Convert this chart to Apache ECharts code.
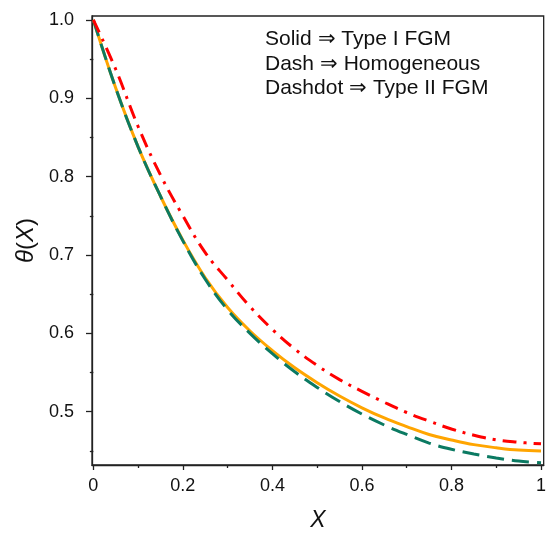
<!DOCTYPE html>
<html><head><meta charset="utf-8">
<script src="https://cdn.jsdelivr.net/npm/echarts@6/dist/echarts.min.js"></script>
<style>html,body{margin:0;padding:0;background:#fff}#c{width:549px;height:537px}</style>
</head><body><div id="c"></div>
<script>
const xValues = [0,0.05,0.1,0.15,0.2,0.25,0.3,0.35,0.4,0.45,0.5,0.55,0.6,0.65,0.7,0.75,0.8,0.85,0.9,0.95,1];
const typeI = [1.000,0.913,0.838,0.775,0.719,0.671,0.633,0.603,0.578,0.556,0.537,0.520,0.505,0.492,0.481,0.471,0.464,0.458,0.454,0.451,0.450];
const homogeneous = [1.000,0.913,0.838,0.775,0.718,0.669,0.630,0.600,0.574,0.551,0.531,0.513,0.497,0.483,0.471,0.460,0.452,0.446,0.441,0.437,0.435];
const typeII = [1.000,0.937,0.864,0.802,0.750,0.703,0.668,0.634,0.605,0.580,0.559,0.541,0.526,0.512,0.499,0.488,0.478,0.470,0.464,0.461,0.459];
const xMajorTicks = [0,0.2,0.4,0.6,0.8,1];
const xMinorTicks = [0.1,0.3,0.5,0.7,0.9];
const yMajorTicks = [0.5,0.6,0.7,0.8,0.9,1.0];
const yMinorTicks = [0.45,0.55,0.65,0.75,0.85,0.95];
const noteLines = ['Solid \u21D2 Type I FGM','Dash \u21D2 Homogeneous','Dashdot \u21D2 Type II FGM'];

const FONT = '"Liberation Sans", Arial, Helvetica, sans-serif';
const AX = '#222';
const XMIN = -0.003, XMAX = 1.006, YMIN = 0.432, YMAX = 1.005;
const pairs = ys => xValues.map((x,i)=>[x,ys[i]]);

const chart = echarts.init(document.getElementById('c'), null, {renderer:'canvas'});
chart.setOption({
  animation:false,
  backgroundColor:'#fff',
  grid:{left:92, right:4, top:16, bottom:60, show:true, borderColor:AX, borderWidth:1.3, backgroundColor:'transparent'},
  xAxis:[{
    type:'value', min:XMIN, max:XMAX,
    axisLine:{show:true, onZero:false, lineStyle:{color:AX,width:1.3}},
    axisTick:{show:true, customValues:xMajorTicks, length:5, lineStyle:{color:AX,width:1.3}},
    axisLabel:{show:true, customValues:xMajorTicks, margin:12, color:'#111', fontSize:18, fontFamily:FONT,
      formatter:v=>{const r=Math.round(v*10)/10; return (r===0||r===1)?String(r):r.toFixed(1);}},
    splitLine:{show:false},
    name:'X', nameLocation:'middle', nameGap:44,
    nameTextStyle:{fontSize:23, fontStyle:'italic', fontFamily:FONT, color:'#111'}
  },{
    type:'value', min:XMIN, max:XMAX, position:'bottom',
    axisLine:{show:false},
    axisTick:{show:true, customValues:xMinorTicks, length:3, lineStyle:{color:AX,width:1.3}},
    axisLabel:{show:false}, splitLine:{show:false}
  }],
  yAxis:[{
    type:'value', min:YMIN, max:YMAX,
    axisLine:{show:true, onZero:false, lineStyle:{color:AX,width:1.3}},
    axisTick:{show:true, customValues:yMajorTicks, length:6, lineStyle:{color:AX,width:1.3}},
    axisLabel:{show:true, customValues:yMajorTicks, margin:18, color:'#111', fontSize:18, fontFamily:FONT,
      formatter:v=>(Math.round(v*10)/10).toFixed(1)},
    splitLine:{show:false},
    name:'{i|\u03B8}({i|X})', nameLocation:'middle', nameGap:51,
    nameTextStyle:{fontSize:24, fontFamily:FONT, color:'#111',
      rich:{i:{fontSize:24, fontStyle:'italic', fontFamily:FONT, color:'#111'}}}
  },{
    type:'value', min:YMIN, max:YMAX, position:'left',
    axisLine:{show:false},
    axisTick:{show:true, customValues:yMinorTicks, length:3.5, lineStyle:{color:AX,width:1.3}},
    axisLabel:{show:false}, splitLine:{show:false}
  }],
  series:[
    {name:'Type I FGM', type:'line', xAxisIndex:0, yAxisIndex:0, data:pairs(typeI), smooth:0.4, showSymbol:false,
      lineStyle:{color:'#ffa500', width:3, type:'solid'}, z:2},
    {name:'Homogeneous', type:'line', xAxisIndex:0, yAxisIndex:0, data:pairs(homogeneous), smooth:0.4, showSymbol:false,
      lineStyle:{color:'#0b7a62', width:3, type:[17,8]}, z:3},
    {name:'Type II FGM', type:'line', xAxisIndex:0, yAxisIndex:0, data:pairs(typeII), smooth:0.4, showSymbol:false,
      lineStyle:{color:'#ff0000', width:3, type:[14,7,3,7]}, z:4}
  ],
  graphic: noteLines.map((t,i)=>({
    type:'text', left:265, top:29 + i*24.5,
    style:{text:t, fontSize:21, fontFamily:FONT, fill:'#111'}
  }))
});
</script></body></html>
